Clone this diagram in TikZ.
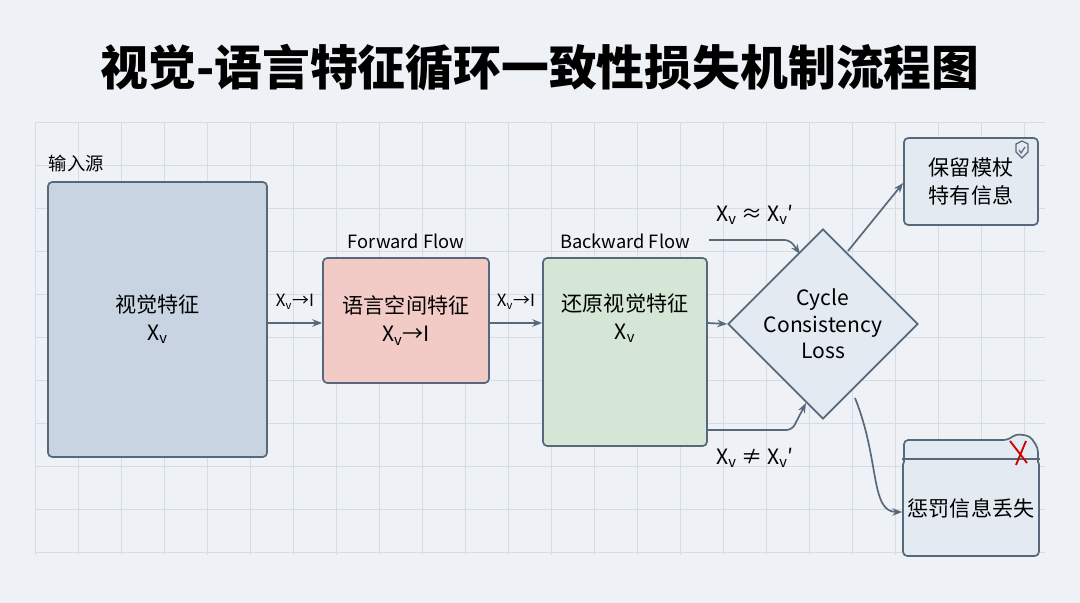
\documentclass[tikz,border=0pt]{standalone}
\usepackage{fontspec}
\setmainfont{Noto Sans CJK SC}
\usetikzlibrary{arrows.meta,shapes.geometric,positioning}
\definecolor{edge}{HTML}{56687A}
\definecolor{bgc}{HTML}{EEF1F5}
\definecolor{gridc}{HTML}{D6DCE3}
\definecolor{srcfill}{HTML}{C9D4E3}
\definecolor{fwdfill}{HTML}{F2CAC6}
\definecolor{bwdfill}{HTML}{D5E6D6}
\definecolor{lossfill}{HTML}{E3EAF2}
\tikzset{
  box/.style={draw=edge,line width=1.2pt,rounded corners=3pt,align=center,font=\fontsize{15}{20}\selectfont},
  flow/.style={-{Stealth[length=7pt]},draw=edge,line width=1.2pt},
  lbl/.style={font=\fontsize{12}{14}\selectfont},
  cond/.style={font=\fontsize{15}{17}\selectfont}
}
\newcommand{\xv}{X\textsubscript{v}}
\begin{document}
\begin{tikzpicture}[x=0.025cm,y=-0.025cm]
  \useasboundingbox (0,0) rectangle (1080,603);
  \fill[bgc] (0,0) rectangle (1080,603);
  % grid
  \foreach \x in {35,78,...,1045} \draw[gridc,line width=0.5pt] (\x,122) -- (\x,555);
  \foreach \y in {122,165,...,555} \draw[gridc,line width=0.5pt] (35,\y) -- (1045,\y);
  \node[font=\bfseries\fontsize{34}{38}\selectfont] (title) at (540,68) {视觉-语言特征循环一致性损失机制流程图};
  % boxes
  \node[box,fill=srcfill,minimum width=219*0.025cm,minimum height=275*0.025cm] (src) at (157.5,319.5) {视觉特征\\\xv};
  \node[anchor=south west,font=\fontsize{13}{15}\selectfont] (srclbl) at (44,177) {输入源};
  \node[lbl,font=\fontsize{13}{15}\selectfont] (fwdlbl) at (406,241) {Forward Flow};
  \node[box,fill=fwdfill,minimum width=166*0.025cm,minimum height=125*0.025cm] (fwd) at (406,320.5) {语言空间特征\\\xv→I};
  \node[box,fill=bwdfill,minimum width=164*0.025cm,minimum height=188*0.025cm] (bwd) at (625,352) {};
  \node[box,draw=none,anchor=center] (bwdtxt) at (625,318) {还原视觉特征\\\xv};
  \node[lbl,font=\fontsize{13}{15}\selectfont] (bwdlbl) at (625,241) {Backward Flow};
  \node[diamond,draw=edge,line width=1.2pt,fill=lossfill,minimum width=190*0.025cm,minimum height=190*0.025cm,inner sep=0pt] (loss) at (823,324) {};
  \node[align=center,font=\fontsize{15}{19}\selectfont] (losstxt) at (823,324) {Cycle\\Consistency\\Loss};
  \node[box,fill=lossfill,minimum width=134*0.025cm,minimum height=87*0.025cm] (keep) at (971,181.5) {保留模杖\\特有信息};
  \node[box,fill=lossfill,minimum width=134*0.025cm,minimum height=96*0.025cm] (pen) at (971,508) {惩罚信息丢失};
  % tab of penalty box
  \draw[edge,line width=1.2pt,fill=lossfill,rounded corners=3pt] (904,462) -- (904,440) -- (1008,440) -- (1016,434) -- (1030,436) -- (1038,448) -- (1038,462);
  \draw[edge,line width=1pt] (pen.north west) -- (pen.north east);
  \draw[red!80!black,line width=1.3pt] (1010,441) -- (1027,463) (1026,441) -- (1016,465);
  % shield
  \draw[edge,line width=0.8pt] (1016,144) -- (1022,141) -- (1028,144) -- (1028,152) -- (1022,158) -- (1016,152) -- cycle;
  \draw[edge,line width=0.8pt] (1019,150) -- (1021,153) -- (1025,147);
  % connectors
  \draw[flow] (src.east |- 0,323) -- (fwd.west |- 0,323) node[midway,above=6pt,lbl] {\xv→I};
  \draw[flow] (fwd.east |- 0,323) -- (bwd.west |- 0,323) node[midway,above=6pt,lbl] {\xv→I};
  \draw[flow] (bwd.east |- 0,323) -- (loss.west);
  \coordinate (up) at (709,240);
  \coordinate (dn) at (707,430);
  \draw[flow,rounded corners=4pt] (up) -- (790,240) -- (800,254);
  \draw[flow,rounded corners=4pt] (dn) -- (792,430) -- (806,403);
  \node[cond] (approx) at (755,215) {\xv{} ≈ \xv′};
  \node[cond] (neq) at (755,458) {\xv{} ≠ \xv′};
  \draw[flow] (848,251) -- (keep.west |- 0,183);
  \draw[flow] (855,398) .. controls (880,460) and (870,512) .. (pen.west |- 0,512);
\end{tikzpicture}
\end{document}
